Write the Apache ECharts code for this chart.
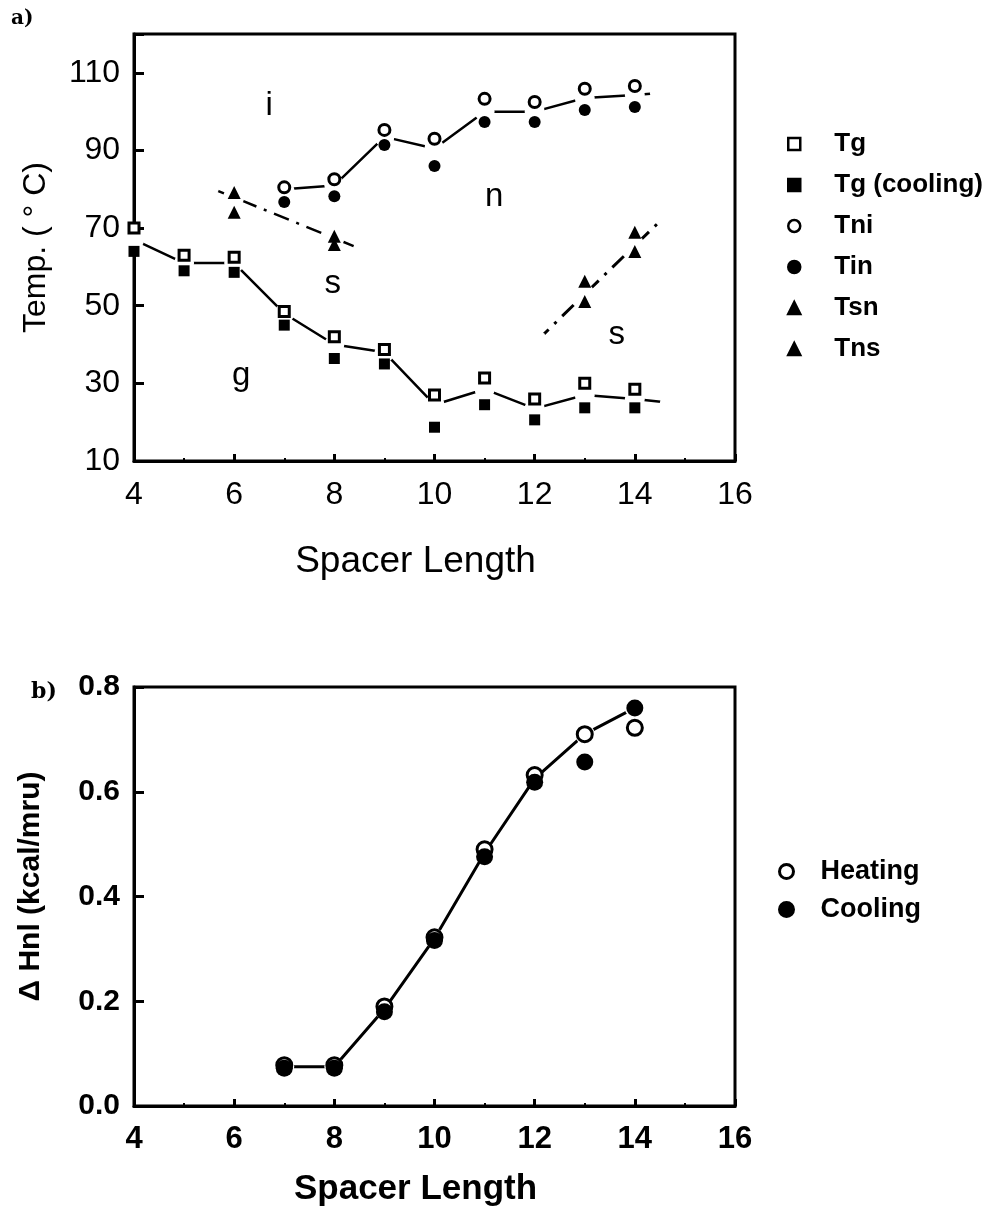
<!DOCTYPE html>
<html>
<head>
<meta charset="utf-8">
<script src="https://cdn.jsdelivr.net/npm/echarts@6/dist/echarts.min.js"></script>
<style>
html, body { margin: 0; padding: 0; background: #fff; }
#chart { width: 994px; height: 1217px; }
</style>
</head>
<body>
<div id="chart"></div>
<script>
// (a) transition temperatures vs spacer length  [x, temp]
const tgHeat = [[4, 70], [5, 63], [6, 62.5], [7, 48.5], [8, 42], [9, 38.7], [10, 27], [11, 31.4], [12, 26], [13, 30], [14, 28.5]]
const tgCool = [[4, 64], [5, 59], [6, 58.6], [7, 45], [8, 36.4], [9, 35], [10, 18.7], [11, 24.5], [12, 20.6], [13, 23.7], [14, 23.7]]
const tni = [[7, 80.5], [8, 82.6], [9, 95.3], [10, 93], [11, 103.3], [12, 102.5], [13, 105.9], [14, 106.6]]
const tin = [[7, 76.7], [8, 78.2], [9, 91.4], [10, 86], [11, 97.3], [12, 97.3], [13, 100.4], [14, 101.2]]
const tsn = [[6, 79.2], [8, 67.9], [13, 56.3], [14, 68.9]]
const tns = [[6, 74.1], [8, 65.8], [13, 51.1], [14, 64]]

// hand drawn guide curves of panel a
const tgCurve = [[4, 67], [5, 61], [6, 61], [7, 48], [8, 40], [9, 38], [10, 24.5], [11, 28.5], [12, 23.5], [13, 27], [14, 26], [14.7, 25]]
const niCurve = [[7, 80], [8, 81], [9, 93.5], [10, 90.5], [11, 100], [12, 100], [13, 103.5], [14, 104.3], [14.5, 104.8]]
const snCurveLeft = [[5.5, 80.5], [6, 77.9], [8, 67.4], [8.7, 63.7]]
const snCurveRight = [[12.05, 41], [13, 53], [14, 65.5], [14.6, 73]]

// phase region letters [text, x, temp]
const phaseLabels = [['i', 6.7, 101.5], ['n', 11.19, 78], ['s', 7.97, 55.5], ['g', 6.14, 32], ['s', 13.64, 42.6]]

// (b) enthalpy of n-i transition
const heating = [[7, 0.078], [8, 0.078], [9, 0.19], [10, 0.322], [11, 0.49], [12, 0.632], [13, 0.71], [14, 0.722]]
const cooling = [[7, 0.072], [8, 0.072], [9, 0.18], [10, 0.316], [11, 0.476], [12, 0.618], [13, 0.657], [14, 0.76]]
const hCurve = [[7, 0.075], [8, 0.075], [9, 0.185], [10, 0.32], [11, 0.483], [12, 0.625], [13, 0.71], [14, 0.76]]

const legendA = ['Tg', 'Tg (cooling)', 'Tni', 'Tin', 'Tsn', 'Tns']
const legendB = ['Heating', 'Cooling']

const FONT = 'Liberation Sans, Arial, sans-serif'
const BLACK = '#000'

const chart = echarts.init(document.getElementById('chart'))

function xAxisCfg(gridIndex, bold, nameGap, labelSize) {
  return {
    type: 'value',
    gridIndex,
    min: 4,
    max: 16,
    interval: 2,
    name: 'Spacer Length',
    nameLocation: 'middle',
    nameGap,
    nameTextStyle: {
      fontFamily: FONT, fontSize: bold ? 35 : 37, color: BLACK,
      fontWeight: bold ? 'bold' : 'normal', padding: [0, 38, 0, 0]
    },
    axisLine: { lineStyle: { color: BLACK, width: 3 } },
    axisTick: { inside: true, length: 7, lineStyle: { color: BLACK, width: 3 } },
    minorTick: { show: true, splitNumber: 2, length: 3, lineStyle: { color: BLACK, width: 2 } },
    axisLabel: { fontFamily: FONT, fontSize: labelSize, color: BLACK, margin: 18, fontWeight: bold ? 'bold' : 'normal' },
    splitLine: { show: false }
  }
}

function scatter(name, data, symbol, size, filled, xi) {
  return {
    name,
    type: 'scatter',
    xAxisIndex: xi,
    yAxisIndex: xi,
    data,
    symbol,
    symbolSize: size,
    z: 5,
    itemStyle: { color: filled ? BLACK : '#fff', borderColor: BLACK, borderWidth: filled ? 0 : 3, opacity: 1 }
  }
}

function curve(data, xi, dash, width) {
  return {
    type: 'line',
    xAxisIndex: xi,
    yAxisIndex: xi,
    data,
    symbol: 'circle',
    symbolSize: 20,
    showSymbol: true,
    z: 2,
    silent: true,
    itemStyle: { color: '#fff', borderWidth: 0 },
    lineStyle: { color: BLACK, width, type: dash || 'solid' }
  }
}

const dashDot = [16, 8, 3, 8]

const option = {
  animation: false,
  backgroundColor: '#fff',
  title: [
    { text: 'a)', left: 6, top: 4, textStyle: { fontFamily: 'DejaVu Serif, serif', fontSize: 20, fontWeight: 'bold', color: BLACK } },
    { text: 'b)', left: 26, top: 676, textStyle: { fontFamily: 'DejaVu Serif, serif', fontSize: 22, fontWeight: 'bold', color: BLACK } }
  ],
  legend: [
    {
      data: legendA,
      orient: 'vertical',
      left: 782,
      top: 126,
      itemWidth: 12,
      itemHeight: 12,
      itemGap: 15,
      selectedMode: false,
      itemStyle: { borderWidth: 2.5 },
      textStyle: { fontFamily: FONT, fontSize: 26, fontWeight: 'bold', color: BLACK, padding: [0, 0, 0, 29] }
    },
    {
      data: legendB,
      orient: 'vertical',
      left: 773,
      top: 853,
      itemWidth: 14,
      itemHeight: 14,
      itemGap: 11,
      selectedMode: false,
      itemStyle: { borderWidth: 3 },
      textStyle: { fontFamily: FONT, fontSize: 27, fontWeight: 'bold', color: BLACK, padding: [0, 0, 0, 22] }
    }
  ],
  grid: [
    { left: 134, top: 34, width: 601, height: 427, show: true, borderColor: BLACK, borderWidth: 3 },
    { left: 134, top: 687, width: 601, height: 419, show: true, borderColor: BLACK, borderWidth: 3 }
  ],
  xAxis: [xAxisCfg(0, false, 82, 32), xAxisCfg(1, true, 66, 31)],
  yAxis: [
    {
      type: 'value',
      gridIndex: 0,
      min: 10,
      max: 120,
      interval: 20,
      name: 'Temp. ( \u00b0 C)',
      nameLocation: 'middle',
      nameGap: 82,
      nameTextStyle: { fontFamily: FONT, fontSize: 32, color: BLACK },
      axisLine: { lineStyle: { color: BLACK, width: 3 } },
      axisTick: { inside: true, length: 10, lineStyle: { color: BLACK, width: 3 } },
      axisLabel: {
        fontFamily: FONT, fontSize: 32, color: BLACK, margin: 14,
        formatter: v => (v > 110 ? '' : String(v))
      },
      splitLine: { show: false }
    },
    {
      type: 'value',
      gridIndex: 1,
      min: 0,
      max: 0.8,
      interval: 0.2,
      name: '\u0394 Hnl (kcal/mru)',
      nameLocation: 'middle',
      nameGap: 88,
      nameTextStyle: { fontFamily: FONT, fontSize: 30, fontWeight: 'bold', color: BLACK, padding: [0, 0, 0, 20] },
      axisLine: { lineStyle: { color: BLACK, width: 3 } },
      axisTick: { inside: true, length: 10, lineStyle: { color: BLACK, width: 3 } },
      axisLabel: {
        fontFamily: FONT, fontSize: 30, fontWeight: 'bold', color: BLACK, margin: 14,
        formatter: v => v.toFixed(1)
      },
      splitLine: { show: false }
    }
  ],
  series: [
    curve(tgCurve, 0, null, 2.5),
    curve(niCurve, 0, null, 2.5),
    curve(snCurveLeft, 0, dashDot, 2.5),
    curve(snCurveRight, 0, dashDot, 3),
    scatter('Tg', tgHeat, 'rect', 10, false, 0),
    scatter('Tg (cooling)', tgCool, 'rect', 11, true, 0),
    scatter('Tni', tni, 'circle', 11, false, 0),
    scatter('Tin', tin, 'circle', 12, true, 0),
    scatter('Tsn', tsn, 'triangle', 13, true, 0),
    scatter('Tns', tns, 'triangle', 13, true, 0),
    {
      type: 'scatter',
      xAxisIndex: 0,
      yAxisIndex: 0,
      silent: true,
      symbolSize: 1,
      itemStyle: { color: 'rgba(0,0,0,0)', opacity: 1 },
      data: phaseLabels.map(p => ({ value: [p[1], p[2]], name: p[0] })),
      label: {
        show: true,
        position: 'inside',
        formatter: p => p.name,
        fontFamily: FONT,
        fontSize: 33,
        color: BLACK,
        opacity: 1,
        textBorderWidth: 0
      }
    },
    curve(hCurve, 1, null, 3),
    scatter('Heating', heating, 'circle', 15, false, 1),
    scatter('Cooling', cooling, 'circle', 17, true, 1)
  ]
}

chart.setOption(option)
</script>
</body>
</html>
